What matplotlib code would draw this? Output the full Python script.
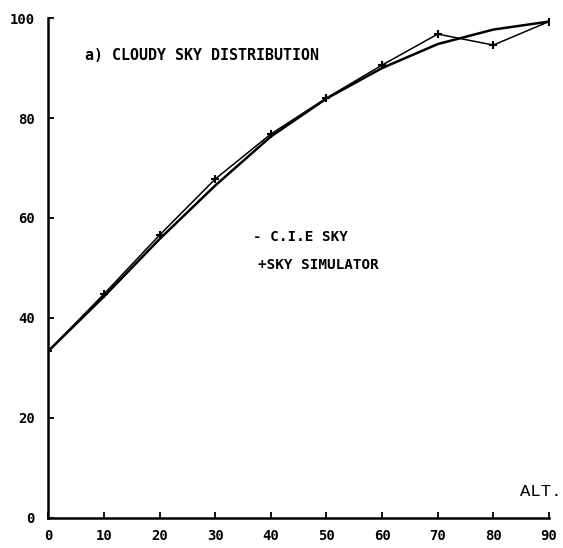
import matplotlib
matplotlib.use('Agg')
import matplotlib.pyplot as plt

alt = [0, 10, 20, 30, 40, 50, 60, 70, 80, 90]
cie_sky = [33.4, 44.3, 55.8, 66.5, 76.3, 83.9, 90.0, 94.8, 97.7, 99.3]
simulator = [33.4, 44.8, 56.6, 67.8, 76.8, 84.0, 90.6, 96.8, 94.6, 99.3]
xticks = [0, 10, 20, 30, 40, 50, 60, 70, 80, 90]
yticks = [0, 20, 40, 60, 80, 100]

mono = 'DejaVu Sans Mono'

fig = plt.figure(figsize=(5.63, 5.48), dpi=100)
ax = fig.add_axes([0.086, 0.055, 0.889, 0.912])

ax.plot(alt, cie_sky, color='black', lw=1.8)
ax.plot(alt, simulator, color='black', lw=1.1, marker='+', ms=6, mew=1.5)

ax.set_xlim(0, 90)
ax.set_ylim(0, 100)
ax.set_xticks(xticks)
ax.set_yticks(yticks)
ax.set_xticklabels([str(t) for t in xticks], fontweight='bold', fontsize=10, family=mono)
ax.set_yticklabels([str(t) for t in yticks], fontweight='bold', fontsize=10, family=mono)
ax.tick_params(direction='in', length=4, width=1.3)
ax.tick_params(axis='x', pad=8)
ax.tick_params(axis='y', pad=10)

for s in ['top', 'right']:
    ax.spines[s].set_visible(False)
for s in ['left', 'bottom']:
    ax.spines[s].set_linewidth(1.8)

ax.text(6.6, 92.6, 'a) CLOUDY SKY DISTRIBUTION', fontsize=10.8, fontweight='bold',
        family=mono, va='center')
ax.text(36.8, 56.2, '- C.I.E SKY', fontsize=10.3, fontweight='bold', family=mono, va='center')
ax.text(37.7, 50.6, '+SKY SIMULATOR', fontsize=10.3, fontweight='bold', family=mono, va='center')
ax.text(92.2, 4.3, 'ALT.', fontsize=12.5, family='Liberation Mono', ha='right')

fig.savefig('out.png', dpi=100)
